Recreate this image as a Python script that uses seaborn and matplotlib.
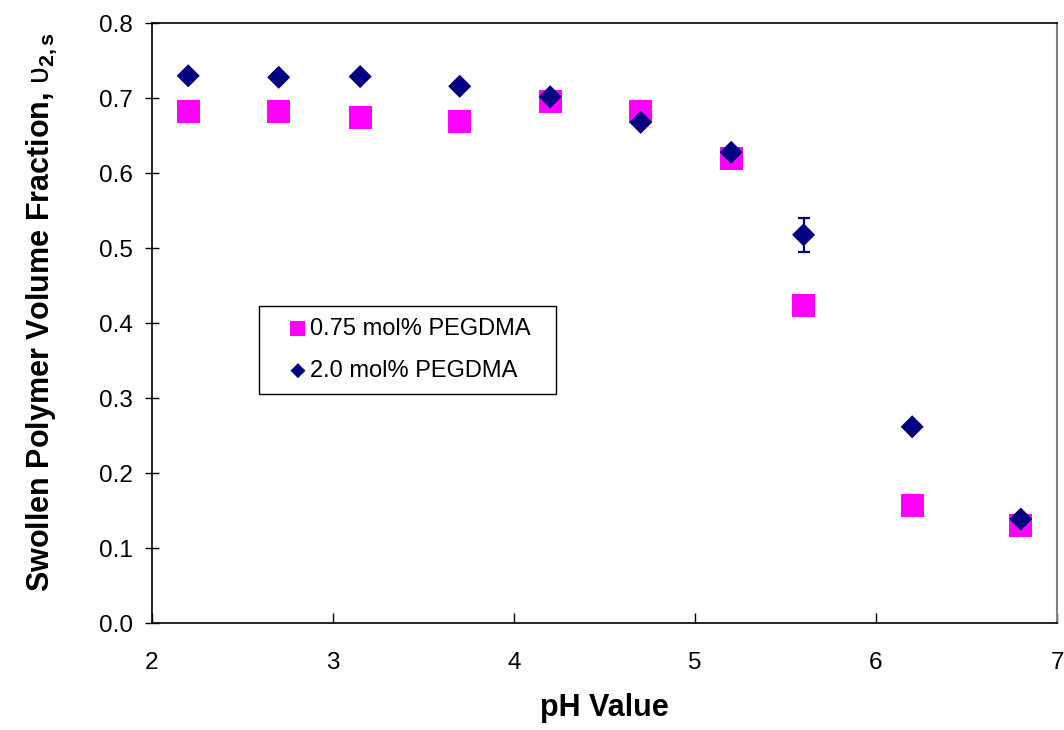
import matplotlib
matplotlib.use("Agg")
import matplotlib.pyplot as plt
import seaborn as sns
import numpy as np

# ---- data ----
ph_values = [2.2, 2.7, 3.15, 3.7, 4.2, 4.7, 5.2, 5.6, 6.2, 6.8]
frac_075 = [0.683, 0.683, 0.674, 0.669, 0.696, 0.682, 0.620, 0.424, 0.157, 0.131]
frac_20 = [0.730, 0.728, 0.729, 0.716, 0.702, 0.668, 0.628, 0.518, 0.262, 0.139]
err_20 = [0.0, 0.0, 0.0, 0.0, 0.0, 0.0, 0.0, 0.023, 0.0, 0.0]
series_labels = ["0.75 mol% PEGDMA", "2.0 mol% PEGDMA"]
x_ticks = [2, 3, 4, 5, 6, 7]
y_ticks = [0.0, 0.1, 0.2, 0.3, 0.4, 0.5, 0.6, 0.7, 0.8]

sns.set_style("white")
plt.rcParams["font.family"] = ["Liberation Sans", "DejaVu Sans"]
plt.rcParams["mathtext.fontset"] = "custom"
plt.rcParams["mathtext.rm"] = "Liberation Sans"
plt.rcParams["mathtext.bf"] = "Liberation Sans:bold"
plt.rcParams["mathtext.it"] = "Liberation Sans:italic"
for key in ["text.color", "axes.labelcolor", "xtick.color", "ytick.color"]:
    plt.rcParams[key] = "black"

fig = plt.figure(figsize=(10.64, 7.30), dpi=100)
ax = fig.add_axes([152 / 1064, (730 - 623.3) / 730, (1057 - 152) / 1064, (623.3 - 23.3) / 730])

sns.scatterplot(x=ph_values, y=frac_075, marker="s", color="#FF00FF", s=276,
                edgecolor="none", linewidth=0, label=series_labels[0], ax=ax, zorder=3)
ax.errorbar(ph_values, frac_20, yerr=err_20, fmt="none", ecolor="#000080",
            elinewidth=1.6, capsize=4, capthick=1.6, zorder=4)
sns.scatterplot(x=ph_values, y=frac_20, marker="D", color="#000080", s=138,
                edgecolor="none", linewidth=0, label=series_labels[1], ax=ax, zorder=5)

ax.set_xlim(2, 7)
ax.set_ylim(0, 0.8)
ax.set_xticks(x_ticks)
ax.set_yticks(y_ticks)
ax.set_xticklabels([str(t) for t in x_ticks])
ax.set_yticklabels([f"{t:.1f}" for t in y_ticks])

for side in ["left", "bottom", "top"]:
    ax.spines[side].set_color("black")
    ax.spines[side].set_linewidth(1.2)
ax.spines["right"].set_color("#808080")
ax.spines["right"].set_linewidth(1.5)

ax.tick_params(axis="y", direction="inout", length=10, width=1, colors="black",
               labelsize=17.5, pad=9, left=True)
ax.tick_params(axis="x", direction="in", length=7, width=1, colors="black",
               labelsize=17.5, pad=21, bottom=True)

ax.set_xlabel("pH Value", fontsize=22, fontweight="bold", labelpad=13)
ax.set_ylabel(r"Swollen Polymer Volume Fraction, $\mathrm{\upsilon}_{\mathbf{2,s}}$",
              fontsize=22, fontweight="bold")
ax.yaxis.set_label_coords(-0.103, 0.518)

lx0 = (259 - 152) / 905
ly1 = (623.3 - 306) / 600
lw = (556 - 259) / 905
lh = (389 - 306) / 600
leg = ax.legend(loc="upper left", bbox_to_anchor=(lx0, ly1 - lh, lw, lh), mode="expand",
                borderaxespad=0, frameon=True, fancybox=False, shadow=False,
                fontsize=17, markerscale=0.65, handlelength=2.3, handletextpad=-0.62,
                labelspacing=0.85, borderpad=0.5)
leg.get_frame().set_edgecolor("black")
leg.get_frame().set_linewidth(1.0)
leg.get_frame().set_alpha(1)

fig.savefig("out.png", dpi=100)
